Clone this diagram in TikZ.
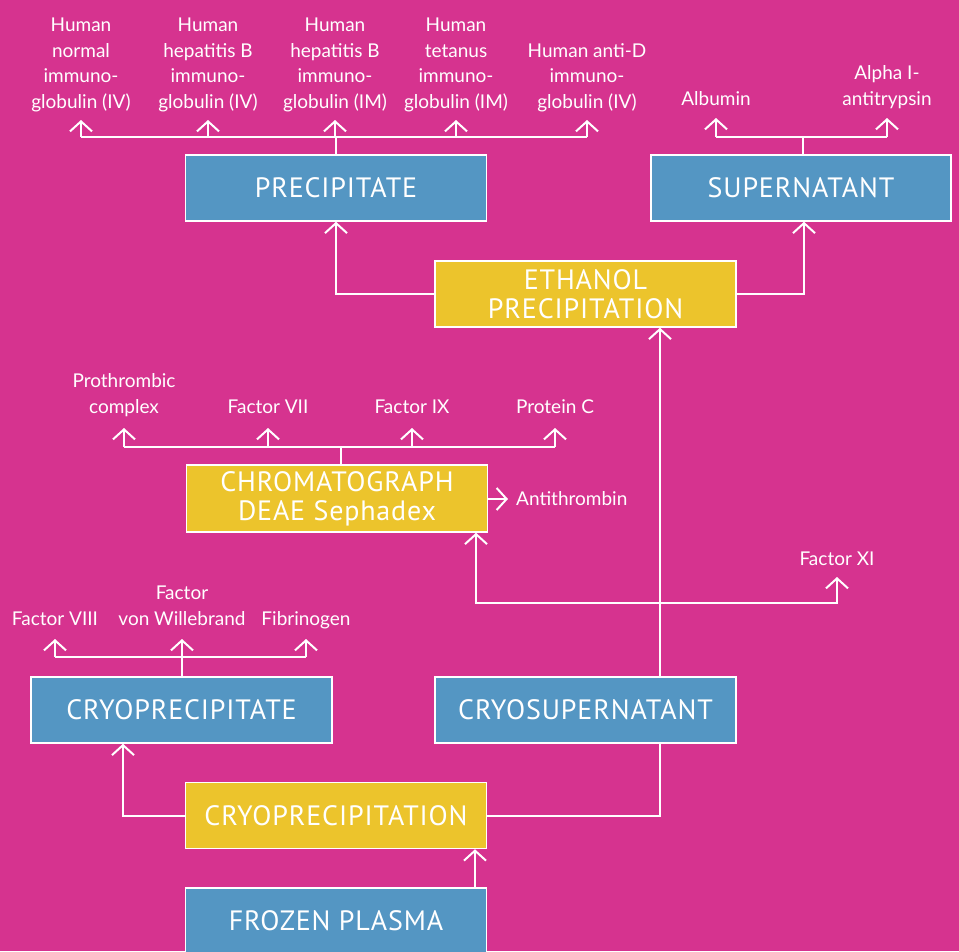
\documentclass[tikz,border=0pt]{standalone}
\usepackage{fontspec}
\setmainfont{Lato}
\newfontfamily\boxfont[LetterSpace=3]{PT Sans}
\usetikzlibrary{arrows.meta}
\definecolor{bg}{RGB}{214,51,143}
\definecolor{bluebox}{RGB}{84,150,195}
\definecolor{yellowbox}{RGB}{236,196,44}
\begin{document}
\begin{tikzpicture}[x=1pt,y=-1pt,
  boxbase/.style={draw=white, line width=1.5pt, minimum width=301pt, minimum height=66pt,
    inner sep=0pt, text=white, align=center, font=\boxfont\fontsize{28}{29}\selectfont},
  bluebox/.style={boxbase, fill=bluebox},
  yelbox/.style={boxbase, fill=yellowbox},
  lab/.style={text=white, align=center, inner sep=0pt, anchor=base,
    font=\fontsize{19}{25.5}\selectfont},
  conn/.style={draw=white, line width=2pt},
  arr/.style={conn, -{Straight Barb[length=10pt,width=22pt]}}]
\clip (0,0) rectangle (959,951);
\fill[bg] (0,0) rectangle (959,951);

% boxes
\node[bluebox] (prec) at (336,188) {PRECIPITATE};
\node[bluebox, minimum width=300pt] (super) at (801,188) {SUPERNATANT};
\node[yelbox] (eth) at (585.5,294) {ETHANOL\\PRECIPITATION};
\node[yelbox, minimum height=67pt] (chrom) at (337,498.5) {CHROMATOGRAPH\\DEAE Sephadex};
\node[bluebox] (cryop) at (181.5,710) {CRYOPRECIPITATE};
\node[bluebox] (cryos) at (585.5,710) {CRYOSUPERNATANT};
\node[yelbox] (cryoprec) at (336,815.5) {CRYOPRECIPITATION};
\node[bluebox] (frozen) at (336,921) {FROZEN PLASMA};

% top labels (precipitate)
\node[lab] (l1) at (81,108) {Human\\normal\\immuno-\\globulin (IV)};
\node[lab] (l2) at (208,108) {Human\\hepatitis B\\immuno-\\globulin (IV)};
\node[lab] (l3) at (335,108) {Human\\hepatitis B\\immuno-\\globulin (IM)};
\node[lab] (l4) at (456,108) {Human\\tetanus\\immuno-\\globulin (IM)};
\node[lab] (l5) at (587,108) {Human anti-D\\immuno-\\globulin (IV)};
% supernatant labels
\node[lab] (s1) at (716,105) {Albumin};
\node[lab] (s2) at (887,105) {Alpha I-\\antitrypsin};
% chromatograph labels
\node[lab] (c1) at (124,413) {Prothrombic\\complex};
\node[lab] (c2) at (268,413) {Factor VII};
\node[lab] (c3) at (412,413) {Factor IX};
\node[lab] (c4) at (555,413) {Protein C};
\node[lab, anchor=west] (anti) at (516,499) {Antithrombin};
\node[lab] (fxi) at (837,565) {Factor XI};
% cryoprecipitate labels
\node[lab] (k1) at (55,625) {Factor VIII};
\node[lab] (k2) at (182,625) {Factor\\von Willebrand};
\node[lab] (k3) at (306,625) {Fibrinogen};

% helper coordinates
\coordinate (pbus) at (0,137);
\coordinate (ptip) at (0,120);
\coordinate (sbus) at (0,137);
\coordinate (stip) at (0,118);
\coordinate (cbus) at (0,447);
\coordinate (ctip) at (0,428);
\coordinate (kbus) at (0,657);
\coordinate (ktip) at (0,639);
\coordinate (cx) at (660,0);
\coordinate (xbus) at (0,603);
\coordinate (ax) at (476,0);
\coordinate (ftip) at (0,577);

% ethanol -> precipitate / supernatant
\draw[arr] (eth.west) -| (prec.south);
\draw[arr] (eth.east) -| ([xshift=3pt]super.south);

% precipitate products
\draw[conn] (prec.north) -- (prec.north |- pbus);
\draw[conn] (l1 |- pbus) -- (l5 |- pbus);
\foreach \n in {l1,l2,l3,l4,l5} \draw[arr] (\n |- pbus) -- (\n |- ptip);

% supernatant products
\draw[conn] ([xshift=2pt]super.north) -- ([xshift=2pt]super.north |- sbus);
\draw[conn] (s1 |- sbus) -- (s2 |- sbus);
\foreach \n in {s1,s2} \draw[arr] (\n |- sbus) -- (\n |- stip);

% chromatograph products
\draw[conn] ([xshift=4pt]chrom.north) -- ([xshift=4pt]chrom.north |- cbus);
\draw[conn] (c1 |- cbus) -- (c4 |- cbus);
\foreach \n in {c1,c2,c3,c4} \draw[arr] (\n |- cbus) -- (\n |- ctip);
\draw[arr, shorten >=8pt] (chrom.east |- anti.west) -- (anti.west);

% cryosupernatant -> ethanol, chromatograph, factor XI
\draw[arr] (cx |- cryos.north) -- (cx |- eth.south);
\draw[arr] (cx |- xbus) -| (ax |- chrom.south);
\draw[arr] (cx |- xbus) -| (fxi |- ftip);

% cryoprecipitate products
\draw[conn] (cryop.north) -- (cryop.north |- kbus);
\draw[conn] (k1 |- kbus) -- (k3 |- kbus);
\foreach \n in {k1,k2,k3} \draw[arr] (\n |- kbus) -- (\n |- ktip);

% cryoprecipitation
\draw[conn] (cx |- cryos.south) |- (cryoprec.east);
\draw[arr] (cryoprec.west) -| ([xshift=-58.5pt]cryop.south);
\draw[arr] ([xshift=139pt]frozen.north) -- ([xshift=139pt]cryoprec.south);
\end{tikzpicture}
\end{document}
